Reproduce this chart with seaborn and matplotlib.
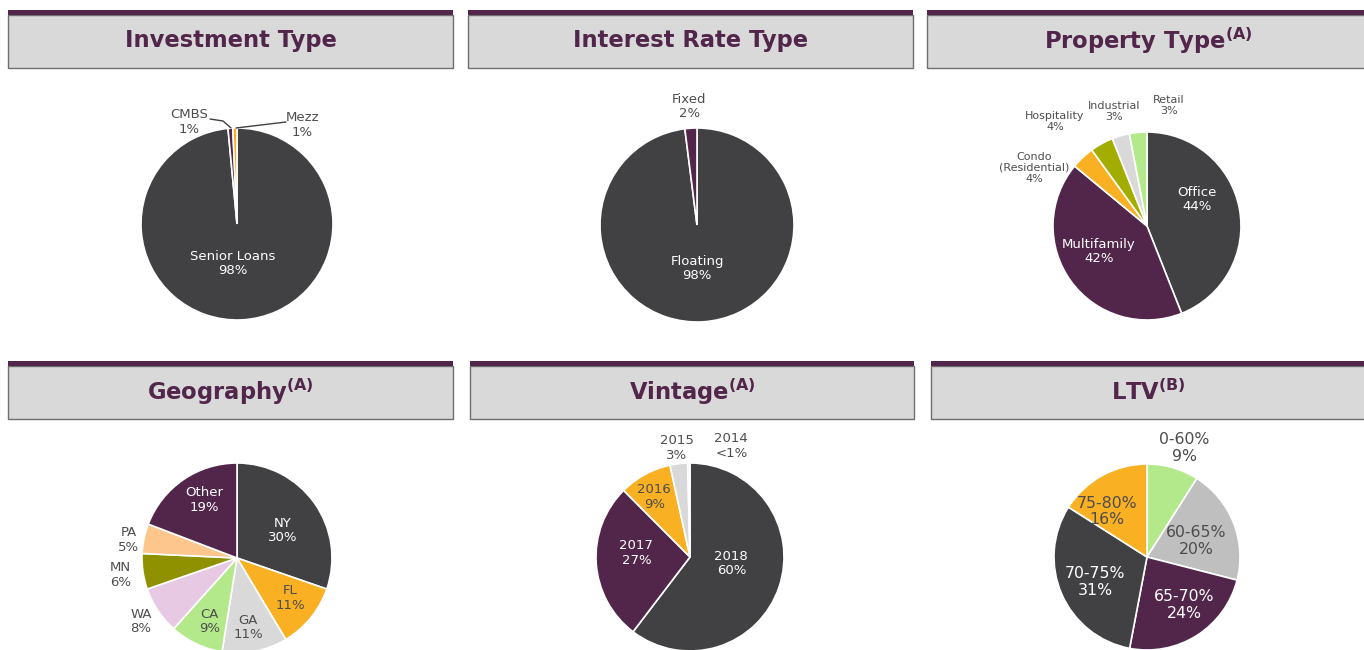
import matplotlib
matplotlib.use("Agg")
import matplotlib.pyplot as plt
from matplotlib.patches import Rectangle
import seaborn as sns

sns.set_theme(style="white")
plt.rcParams["font.family"] = ["DejaVu Sans"]
plt.rcParams["mathtext.fontset"] = "dejavusans"

# Data
# ====
invest_labels = ["Senior Loans\n98%", "CMBS\n1%", "Mezz\n1%"]
invest_values = [98.5, 0.8, 0.7]

rate_labels = ["Floating\n98%", "Fixed\n2%"]
rate_values = [98, 2]

prop_labels = ["Office\n44%", "Multifamily\n42%", "Condo\n(Residential)\n4%",
               "Hospitality\n4%", "Industrial\n3%", "Retail\n3%"]
prop_values = [44, 42, 4, 4, 3, 3]

geo_labels = ["NY\n30%", "FL\n11%", "GA\n11%", "CA\n9%", "WA\n8%", "MN\n6%", "PA\n5%", "Other\n19%"]
geo_values = [30, 11, 11, 9, 8, 6, 5, 19]

vintage_labels = ["2018\n60%", "2017\n27%", "2016\n9%", "2015\n3%", "2014\n<1%"]
vintage_values = [60, 27, 9, 3, 0.4]

ltv_labels = ["0-60%\n9%", "60-65%\n20%", "65-70%\n24%", "70-75%\n31%", "75-80%\n16%"]
ltv_values = [9, 20, 24, 31, 16]

titles = ["Investment Type", "Interest Rate Type", r"Property Type$^{\mathbf{(A)}}$",
          r"Geography$^{\mathbf{(A)}}$", r"Vintage$^{\mathbf{(A)}}$", r"LTV$^{\mathbf{(B)}}$"]

# colours
DARK = "#414042"
PURPLE = "#52264b"
ORANGE = "#f9b023"
LGRAY = "#d9d9d9"
GREEN = "#b3e98b"
TXT = "#4d4d4d"
W = "white"

W_PX, H_PX = 1364, 650
fig = plt.figure(figsize=(13.64, 6.5), dpi=100)
ax = fig.add_axes([0, 0, 1, 1])


def Y(py):
    return H_PX - py


# header boxes
headers = [(8, 453, 10), (468, 913, 10), (927, 1368, 10),
           (8, 453, 361), (470, 914, 361), (931, 1368, 361)]
for (x0, x1, top), title in zip(headers, titles):
    ax.add_patch(Rectangle((x0, Y(top + 58)), x1 - x0, 53, facecolor="#d9d9d9",
                           edgecolor="#6e6e6e", linewidth=1))
    ax.add_patch(Rectangle((x0, Y(top + 5)), x1 - x0, 5, facecolor=PURPLE,
                           edgecolor="none"))
    xc = (x0 + x1) / 2 if x1 < 1364 else 1148
    ax.text(xc, Y(top + 31), title, ha="center", va="center",
            fontsize=16.3, fontweight="heavy", color=PURPLE)


def draw_pie(values, labels, colors, cx, cy, r, pos, tcolors, fs):
    ax.pie(values, colors=colors, startangle=90, counterclock=False,
           center=(cx, Y(cy)), radius=r, frame=True,
           wedgeprops=dict(edgecolor="white", linewidth=1.2))
    for lab, (dx, dy), tc, f in zip(labels, pos, tcolors, fs):
        ax.text(cx + dx * r, Y(cy) + dy * r, lab, ha="center", va="center",
                fontsize=f, color=tc, linespacing=1.15)


# 1. Investment Type
draw_pie(invest_values, invest_labels, [DARK, PURPLE, ORANGE], 237, 224, 96,
         [(-0.04, -0.41), (-0.5, 1.06), (0.68, 1.03)], [W, TXT, TXT], [9.5] * 3)
ax.plot([210, 223, 231], [Y(119), Y(121), Y(128)], color=DARK, lw=1)
ax.plot([236, 286], [Y(128), Y(122)], color=DARK, lw=1)

# 2. Interest Rate Type
draw_pie(rate_values, rate_labels, [DARK, PURPLE], 697, 225, 97,
         [(0, -0.45), (-0.08, 1.22)], [W, TXT], [9.5] * 2)

# 3. Property Type
draw_pie(prop_values, prop_labels, [DARK, PURPLE, ORANGE, "#a2ad00", LGRAY, GREEN],
         1147, 226, 94,
         [(0.53, 0.28), (-0.51, -0.27), (-1.2, 0.62), (-0.98, 1.11), (-0.35, 1.22), (0.23, 1.28)],
         [W, W, TXT, TXT, TXT, TXT], [9.5, 9.5, 8, 8, 8, 8])

# 4. Geography
draw_pie(geo_values, geo_labels,
         [DARK, ORANGE, LGRAY, GREEN, "#e8c9e3", "#8f9100", "#fdc68c", PURPLE],
         237, 558, 95,
         [(0.48, 0.29), (0.56, -0.42), (0.12, -0.73), (-0.29, -0.67), (-1.01, -0.67),
          (-1.23, -0.18), (-1.14, 0.19), (-0.34, 0.61)],
         [W, TXT, TXT, TXT, TXT, TXT, TXT, W], [9.5] * 8)

# 5. Vintage
draw_pie(vintage_values, vintage_labels, [DARK, PURPLE, ORANGE, LGRAY, "#f2f2f2"],
         690, 557, 94,
         [(0.44, -0.07), (-0.57, 0.04), (-0.38, 0.64), (-0.14, 1.16), (0.44, 1.18)],
         [W, W, TXT, TXT, TXT], [9.5] * 5)

# 6. LTV
draw_pie(ltv_values, ltv_labels, [GREEN, "#bfbfbf", PURPLE, DARK, ORANGE],
         1147, 557, 93,
         [(0.40, 1.17), (0.53, 0.17), (0.40, -0.52), (-0.56, -0.27), (-0.43, 0.49)],
         [TXT, TXT, W, W, TXT], [11.3] * 5)

ax.set_xlim(0, W_PX)
ax.set_ylim(0, H_PX)
ax.set_aspect("auto")
ax.axis("off")

fig.savefig("out.png", dpi=100, facecolor="white")
